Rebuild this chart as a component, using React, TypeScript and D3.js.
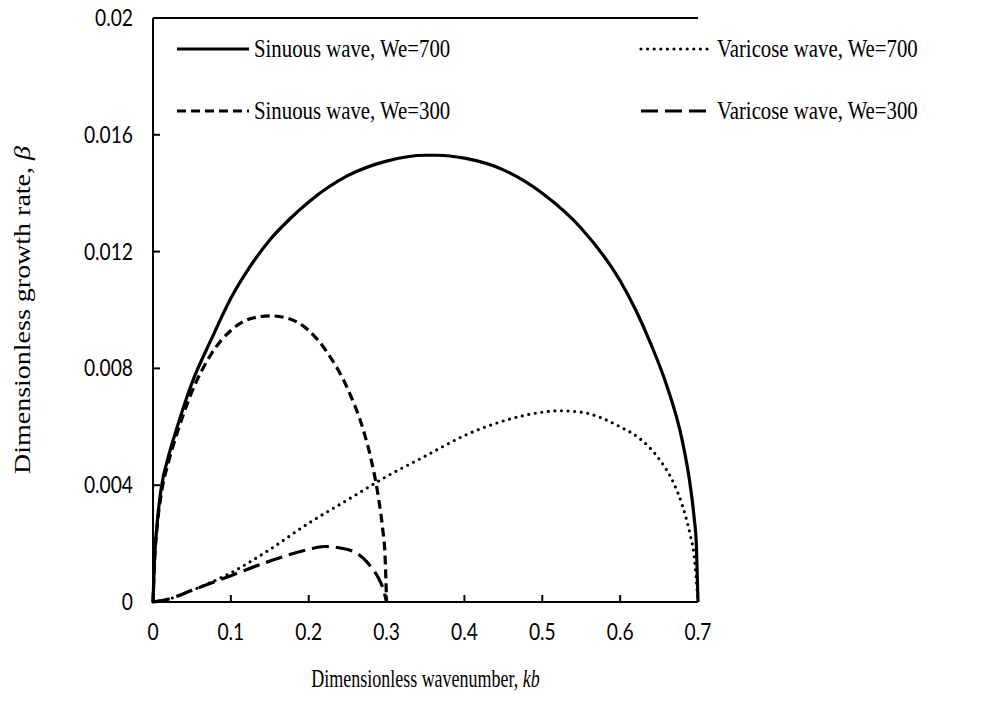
import React from "react";
import * as d3 from "d3";

const xTicks = [0, 0.1, 0.2, 0.3, 0.4, 0.5, 0.6, 0.7];
const yTicks = [0, 0.004, 0.008, 0.012, 0.016, 0.02];
const yTickLabels = ["0", "0.004", "0.008", "0.012", "0.016", "0.02"];

const sin700K = [0, 0.002, 0.005, 0.01, 0.02, 0.03, 0.05, 0.075, 0.1, 0.125, 0.15, 0.175, 0.2, 0.25, 0.3, 0.35, 0.365, 0.4, 0.45, 0.5, 0.55, 0.6, 0.62, 0.64, 0.66, 0.68, 0.69, 0.695, 0.698, 0.7];
const sin700B = [0, 0.0015, 0.0026, 0.0038, 0.0050, 0.0059, 0.0075, 0.0090, 0.0104, 0.0115, 0.0124, 0.0131, 0.0137, 0.0146, 0.0151, 0.0153, 0.0153, 0.0152, 0.0148, 0.0140, 0.0128, 0.0110, 0.0100, 0.0088, 0.0074, 0.0055, 0.0040, 0.0029, 0.0019, 0];

const sin300K = [0, 0.002, 0.005, 0.01, 0.02, 0.03, 0.05, 0.075, 0.1, 0.125, 0.15, 0.175, 0.2, 0.225, 0.25, 0.27, 0.28, 0.29, 0.295, 0.298, 0.3];
const sin300B = [0, 0.0014, 0.0025, 0.0036, 0.0048, 0.0057, 0.0072, 0.0085, 0.0093, 0.0097, 0.0098, 0.0097, 0.0093, 0.0085, 0.0073, 0.0059, 0.0049, 0.0035, 0.0025, 0.0016, 0];

const var700K = [0, 0.02, 0.05, 0.1, 0.15, 0.2, 0.25, 0.3, 0.35, 0.4, 0.45, 0.5, 0.52, 0.55, 0.6, 0.625, 0.65, 0.67, 0.68, 0.69, 0.695, 0.7];
const var700B = [0, 0.0001, 0.0004, 0.001, 0.0018, 0.0027, 0.0035, 0.0043, 0.005, 0.0057, 0.0062, 0.0065, 0.00655, 0.0065, 0.0060, 0.0056, 0.0049, 0.0040, 0.0033, 0.0023, 0.0016, 0];

const var300K = [0, 0.02, 0.05, 0.1, 0.15, 0.2, 0.22, 0.25, 0.27, 0.28, 0.29, 0.295, 0.3];
const var300B = [0, 0.0001, 0.0004, 0.0009, 0.0014, 0.0018, 0.0019, 0.0018, 0.0015, 0.0012, 0.0008, 0.0005, 0];

const seriesNames = ["Sinuous wave, We=700", "Varicose wave, We=700", "Sinuous wave, We=300", "Varicose wave, We=300"];

const W = 982, H = 705;
const L = 153, R = 698, T = 18, B = 602;

export default function App() {
  const x = d3.scaleLinear().domain([0, 0.7]).range([L, R]);
  const y = d3.scaleLinear().domain([0, 0.02]).range([B, T]);
  const line = d3.line<[number, number]>().x(d => x(d[0])).y(d => y(d[1])).curve(d3.curveMonotoneX);
  const mk = (k: number[], b: number[]) => k.map((v, i) => [v, b[i]] as [number, number]);

  const styles = [
    { dash: "none", w: 3.2, cap: "butt" },
    { dash: "0 6.6", w: 3.2, cap: "round" },
    { dash: "9 5", w: 3.2, cap: "butt" },
    { dash: "17 7", w: 3.2, cap: "butt" },
  ];
  const data = [mk(sin700K, sin700B), mk(var700K, var700B), mk(sin300K, sin300B), mk(var300K, var300B)];

  const legendPos = [
    { x1: 177, x2: 249, y: 49 },
    { x1: 641, x2: 712, y: 49 },
    { x1: 177, x2: 249, y: 111 },
    { x1: 641, x2: 712, y: 111 },
  ];

  const sans = "Lato, 'Open Sans', sans-serif";
  const serif = "'Liberation Serif', 'DejaVu Serif', serif";
  const sx = 0.8;

  return (
    <svg width={W} height={H} style={{ position: "absolute", left: 0, top: 0, background: "#fff" }}>
      <rect x={0} y={0} width={W} height={H} fill="#fff" />
      <line x1={L} x2={R} y1={B} y2={B} stroke="#000" strokeWidth={2} />
      <line x1={L} x2={L} y1={T} y2={B} stroke="#000" strokeWidth={2} />
      <line x1={L} x2={R} y1={T} y2={T} stroke="#000" strokeWidth={2} />
      {xTicks.map((t, i) => (
        <g key={"xt" + i}>
          {i > 0 && <line x1={x(t)} x2={x(t)} y1={B} y2={B - 7} stroke="#000" strokeWidth={2} />}
          <g transform={`translate(${x(t)},${B + 38}) scale(${sx},1)`}>
            <text x={0} y={0} textAnchor="middle" fontFamily={sans} fontSize={24} fill="#000">{t === 0 ? "0" : String(t)}</text>
          </g>
        </g>
      ))}
      {yTicks.map((t, i) => (
        <g key={"yt" + i}>
          {i > 0 && i < yTicks.length - 1 && <line x1={L} x2={L + 7} y1={y(t)} y2={y(t)} stroke="#000" strokeWidth={2} />}
          <g transform={`translate(133,${y(t) + 8}) scale(${sx},1)`}>
            <text x={0} y={0} textAnchor="end" fontFamily={sans} fontSize={24} fill="#000">{yTickLabels[i]}</text>
          </g>
        </g>
      ))}
      {data.map((d, i) => (
        <path key={"s" + i} d={line(d) || ""} fill="none" stroke="#000" strokeWidth={styles[i].w}
          strokeDasharray={styles[i].dash} strokeLinecap={styles[i].cap as any} />
      ))}
      {legendPos.map((p, i) => (
        <g key={"lg" + i}>
          <line x1={p.x1} x2={p.x2} y1={p.y} y2={p.y} stroke="#000" strokeWidth={styles[i].w}
            strokeDasharray={styles[i].dash} strokeLinecap={styles[i].cap as any} />
          <g transform={`translate(${p.x2 + 5},${p.y + 8}) scale(${sx},1)`}>
            <text x={0} y={0} fontFamily={serif} fontSize={26} fill="#000">{seriesNames[i]}</text>
          </g>
        </g>
      ))}
      <g transform={`translate(${(L + R) / 2},687) scale(0.72,1)`}>
        <text x={0} y={0} textAnchor="middle" fontFamily={serif} fontSize={25} fill="#000">
          Dimensionless wavenumber, <tspan fontStyle="italic">kb</tspan>
        </text>
      </g>
      <g transform={`translate(30, ${(T + B) / 2}) scale(${sx},1) rotate(-90)`}>
        <text x={0} y={0} textAnchor="middle" fontFamily={serif} fontSize={28} fill="#000">
          Dimensionless growth rate, <tspan fontStyle="italic">β</tspan>
        </text>
      </g>
    </svg>
  );
}
